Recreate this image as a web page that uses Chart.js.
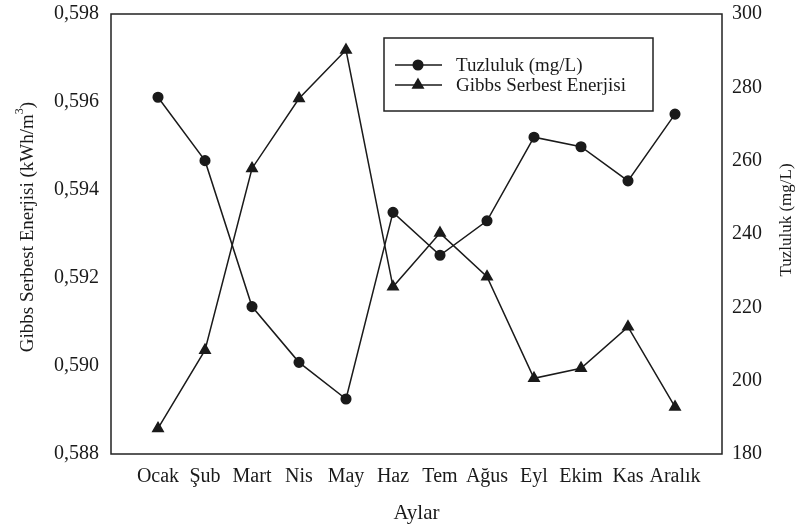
<!DOCTYPE html>
<html>
<head>
<meta charset="utf-8">
<script src="https://cdn.jsdelivr.net/npm/chart.js@4.4.1/dist/chart.umd.min.js"></script>
<style>
    html, body { margin: 0; padding: 0; background: #fff; }
</style>
</head>
<body>
<canvas id="chart" width="800" height="529"></canvas>
<script>
// Data
const months = ['Ocak', 'Şub', 'Mart', 'Nis', 'May', 'Haz', 'Tem', 'Ağus', 'Eyl', 'Ekim', 'Kas', 'Aralık'];
const tuzluluk = [277.3, 260.0, 220.2, 205.0, 195.0, 245.9, 234.2, 243.6, 266.4, 263.8, 254.5, 272.7];
const gibbs = [0.58858, 0.59036, 0.59449, 0.59608, 0.59718, 0.59180, 0.59302, 0.59203, 0.58972, 0.58995, 0.59089, 0.58907];
const gibbsTicks = [0.588, 0.590, 0.592, 0.594, 0.596, 0.598];
const tuzTicks = [180, 200, 220, 240, 260, 280, 300];

const ink = '#1a1a1a';
const serif = "'Liberation Serif', 'Times New Roman', serif";

Chart.defaults.font.family = serif;
Chart.defaults.font.size = 20;
Chart.defaults.color = ink;

// Plot frame, legend box and axis titles (Excel style)
const excelDecor = {
    id: 'excelDecor',
    afterDraw(chart) {
        const { ctx, chartArea: a } = chart;
        ctx.save();
        ctx.strokeStyle = '#222';
        ctx.lineWidth = 1.5;
        ctx.strokeRect(a.left, a.top, a.right - a.left, a.bottom - a.top);

        // legend box
        ctx.strokeRect(384, 38, 269, 73);
        ctx.font = '19px ' + serif;
        ctx.textBaseline = 'middle';
        ctx.fillStyle = ink;
        chart.data.datasets.forEach((ds, i) => {
            const y = 65 + i * 20;
            ctx.beginPath();
            ctx.moveTo(395, y);
            ctx.lineTo(442, y);
            ctx.lineWidth = 1.5;
            ctx.strokeStyle = ink;
            ctx.stroke();
            Chart.helpers.drawPoint(ctx, {
                pointStyle: ds.pointStyle,
                radius: ds.pointRadius,
                borderWidth: 1
            }, 418, y);
            ctx.fillText(ds.label, 456, y + 1);
        });

        // left axis title with superscript
        ctx.save();
        ctx.translate(28, 227);
        ctx.rotate(-Math.PI / 2);
        const main = 'Gibbs Serbest Enerjisi (kWh/m';
        ctx.font = '19px ' + serif;
        const wMain = ctx.measureText(main).width;
        ctx.font = '12px ' + serif;
        const wSup = ctx.measureText('3').width;
        ctx.font = '19px ' + serif;
        const wEnd = ctx.measureText(')').width;
        let x = -(wMain + wSup + wEnd) / 2;
        ctx.textAlign = 'left';
        ctx.fillText(main, x, 0);
        x += wMain;
        ctx.font = '12px ' + serif;
        ctx.fillText('3', x, -8);
        x += wSup;
        ctx.font = '19px ' + serif;
        ctx.fillText(')', x, 0);
        ctx.restore();

        // right axis title, reading bottom to top
        ctx.save();
        ctx.translate(787, 220);
        ctx.rotate(-Math.PI / 2);
        ctx.textAlign = 'center';
        ctx.font = '17px ' + serif;
        ctx.fillText('Tuzluluk (mg/L)', 0, 0);
        ctx.restore();

        // x axis title
        ctx.textAlign = 'center';
        ctx.font = '21px ' + serif;
        ctx.fillText('Aylar', (a.left + a.right) / 2, 513);
        ctx.restore();
    }
};

// keep the plot area fixed, ignore label overhang
function fitVertical(width) {
    return scale => {
        scale.width = width;
        scale.paddingTop = 0;
        scale.paddingBottom = 0;
    };
}

const ctx = document.getElementById('chart').getContext('2d');

new Chart(ctx, {
    type: 'line',
    data: {
        datasets: [
            {
                label: 'Tuzluluk (mg/L)',
                data: tuzluluk.map((v, i) => ({ x: i + 1, y: v })),
                yAxisID: 'y1',
                borderColor: ink,
                backgroundColor: ink,
                borderWidth: 1.5,
                pointStyle: 'circle',
                pointRadius: 4.8,
                pointBackgroundColor: ink,
                pointBorderColor: ink,
                tension: 0
            },
            {
                label: 'Gibbs Serbest Enerjisi',
                data: gibbs.map((v, i) => ({ x: i + 1, y: v })),
                yAxisID: 'y',
                borderColor: ink,
                backgroundColor: ink,
                borderWidth: 1.5,
                pointStyle: 'triangle',
                pointRadius: 6,
                pointBackgroundColor: ink,
                pointBorderColor: ink,
                tension: 0
            }
        ]
    },
    plugins: [excelDecor],
    options: {
        responsive: false,
        animation: false,
        layout: { padding: { top: 14, left: 0, right: 0, bottom: 0 } },
        plugins: {
            legend: { display: false },
            tooltip: { enabled: false }
        },
        scales: {
            x: {
                type: 'linear',
                min: 0,
                max: months.length + 1,
                afterBuildTicks: scale => {
                    scale.ticks = months.map((m, i) => ({ value: i + 1 }));
                },
                afterFit: scale => {
                    scale.height = 75;
                    scale.paddingLeft = 0;
                    scale.paddingRight = 0;
                },
                ticks: {
                    callback: value => months[value - 1],
                    padding: 11,
                    maxRotation: 0,
                    autoSkip: false
                },
                grid: { display: false, drawTicks: false },
                border: { display: false }
            },
            y: {
                position: 'left',
                min: gibbsTicks[0],
                max: gibbsTicks[gibbsTicks.length - 1],
                afterBuildTicks: scale => {
                    scale.ticks = gibbsTicks.map(v => ({ value: v }));
                },
                afterFit: fitVertical(111),
                ticks: {
                    callback: value => value.toFixed(3).replace('.', ','),
                    padding: 12
                },
                grid: { display: false, drawTicks: false },
                border: { display: false }
            },
            y1: {
                position: 'right',
                min: tuzTicks[0],
                max: tuzTicks[tuzTicks.length - 1],
                afterBuildTicks: scale => {
                    scale.ticks = tuzTicks.map(v => ({ value: v }));
                },
                afterFit: fitVertical(78),
                ticks: {
                    padding: 10
                },
                grid: { display: false, drawTicks: false },
                border: { display: false }
            }
        }
    }
});
</script>
</body>
</html>
